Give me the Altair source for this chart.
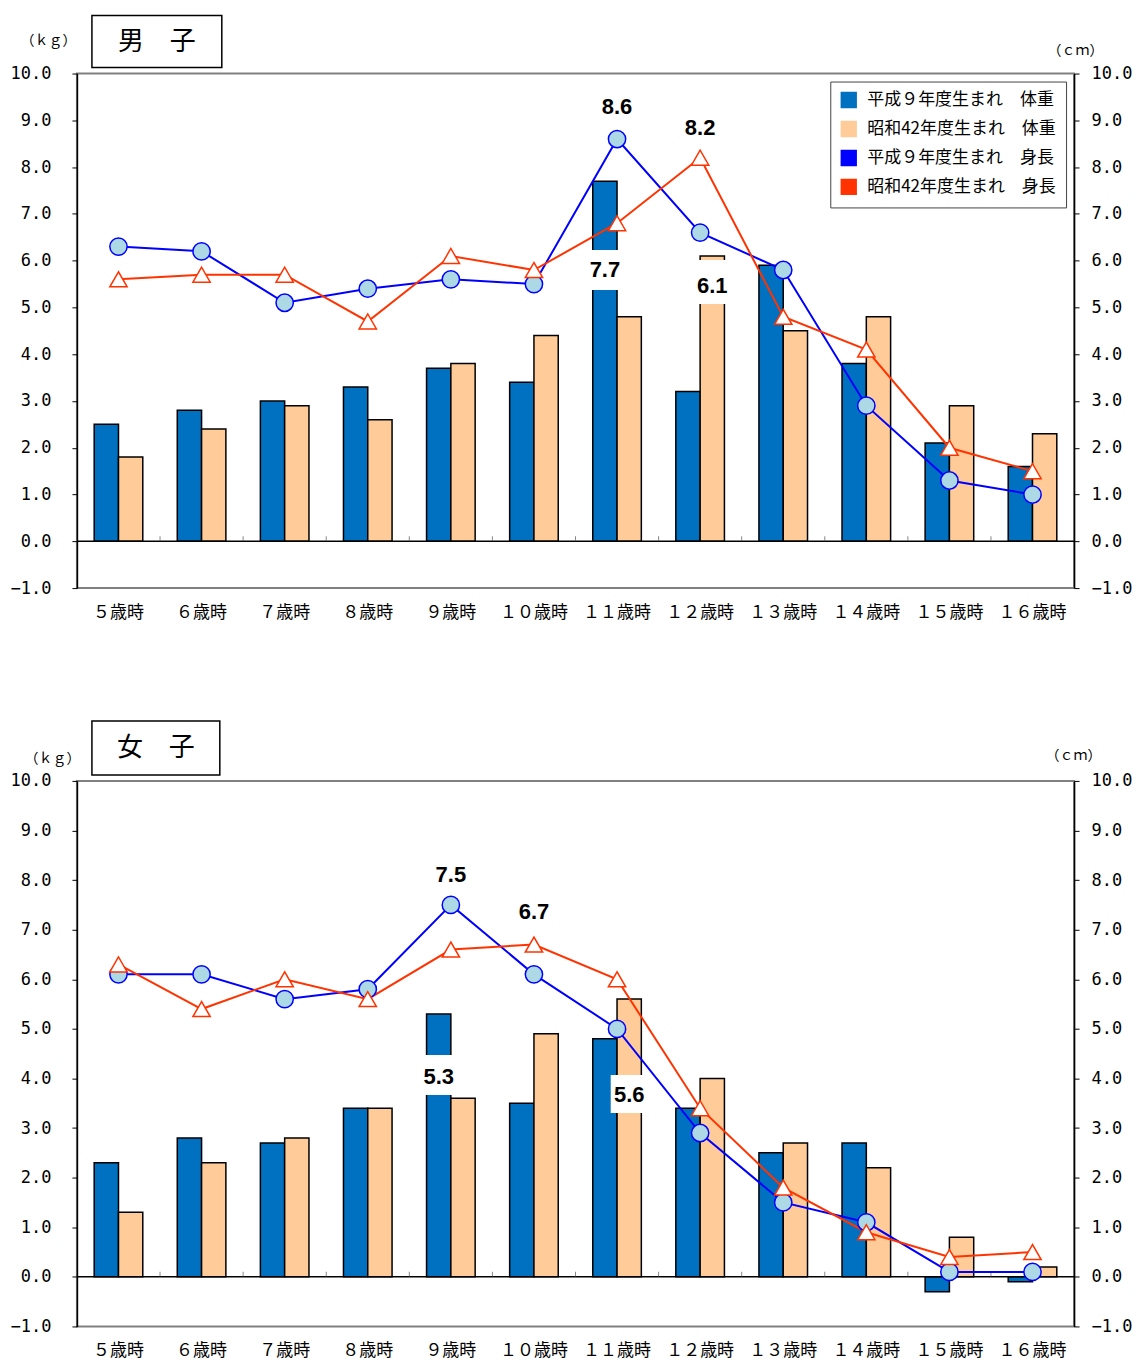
import altair as alt
import pandas as pd

JP = "Noto Sans CJK JP"
NUM = "Liberation Sans Narrow, Liberation Sans, Arial"
MONO = "DejaVu Sans Mono"

ages = ["５歳時", "６歳時", "７歳時", "８歳時", "９歳時", "１０歳時",
        "１１歳時", "１２歳時", "１３歳時", "１４歳時", "１５歳時", "１６歳時"]
series = ["平成９年度生まれ　体重", "昭和42年度生まれ　体重",
          "平成９年度生まれ　身長", "昭和42年度生まれ　身長"]
y_ticks = [-1, 0, 1, 2, 3, 4, 5, 6, 7, 8, 9, 10]

boys_h9_weight = [2.5, 2.8, 3.0, 3.3, 3.7, 3.4, 7.7, 3.2, 5.9, 3.8, 2.1, 1.6]
boys_s42_weight = [1.8, 2.4, 2.9, 2.6, 3.8, 4.4, 4.8, 6.1, 4.5, 4.8, 2.9, 2.3]
boys_h9_height = [6.3, 6.2, 5.1, 5.4, 5.6, 5.5, 8.6, 6.6, 5.8, 2.9, 1.3, 1.0]
boys_s42_height = [5.6, 5.7, 5.7, 4.7, 6.1, 5.8, 6.8, 8.2, 4.8, 4.1, 2.0, 1.5]

girls_h9_weight = [2.3, 2.8, 2.7, 3.4, 5.3, 3.5, 4.8, 3.4, 2.5, 2.7, -0.3, -0.1]
girls_s42_weight = [1.3, 2.3, 2.8, 3.4, 3.6, 4.9, 5.6, 4.0, 2.7, 2.2, 0.8, 0.2]
girls_h9_height = [6.1, 6.1, 5.6, 5.8, 7.5, 6.1, 5.0, 2.9, 1.5, 1.1, 0.1, 0.1]
girls_s42_height = [6.3, 5.4, 6.0, 5.6, 6.6, 6.7, 6.0, 3.4, 1.8, 0.9, 0.4, 0.5]

# labelled points: (series index, age index)
boys_labels = [(2, 6), (3, 7), (0, 6), (1, 7)]
girls_labels = [(2, 4), (3, 5), (0, 4), (1, 6)]

colors = ["#0070C0", "#FFCC99", "#0000FF", "#FF3300"]
marker_fill = ["#ADD8E6", "#FFFFFF"]
marker_shape = ["circle", "triangle-up"]


def make_legend():
    return alt.Legend(
        title=None, orient="top-right", offset=8, padding=10,
        strokeColor="#444444", fillColor="white",
        labelFont=JP, labelFontSize=17, labelColor="black", labelLimit=400,
        symbolType="square", symbolSize=220, rowPadding=8, labelOffset=10,
        values=series,
    )


def make_panel(title, data, height, labels, style):
    rows = []
    for si, vals in enumerate(data):
        for a, v in zip(ages, vals):
            rows.append({"age": a, "series": series[si], "value": v})
    df = pd.DataFrame(rows)
    df_bar = df[df["series"].isin(series[:2])]
    df_line = df[df["series"].isin(series[2:])]

    xscale = alt.Scale(domain=ages, paddingInner=0, paddingOuter=0)
    x_plain = alt.X("age:N", scale=xscale, axis=None)
    xoff = alt.XOffset("series:N", scale=alt.Scale(
        domain=series[:2], paddingInner=0, paddingOuter=0.71))
    leg = make_legend()
    color = alt.Color("series:N", scale=alt.Scale(domain=series, range=colors),
                      legend=leg)

    def ys():
        return alt.Scale(domain=[-1, 10], nice=False, zero=False)

    y_left = alt.Y("value:Q", scale=ys(), axis=alt.Axis(
        orient="left", values=y_ticks, format=".1f", labelFontSize=17,
        labelFont=MONO, labelColor="black", labelPadding=21, tickSize=5,
        tickColor="black", domainColor="black", domainWidth=1.5, grid=False,
        title="（ｋｇ）", titleAngle=0, titleX=style["kgx"], titleY=style["kgy"],
        titleAlign="center", titleBaseline="middle", titleFontSize=14,
        titleFontWeight="normal", titleFont=JP, titleColor="black"))
    y_right = alt.Y("value:Q", scale=ys(), axis=alt.Axis(
        orient="right", values=y_ticks, format=".1f", labelFontSize=17,
        labelFont=MONO, labelColor="black", labelPadding=12, tickSize=5,
        tickColor="black", domainColor="black", domainWidth=1.5, grid=False,
        title="（ｃｍ）", titleAngle=0, titleX=style["cmx"], titleY=style["cmy"],
        titleAlign="center", titleBaseline="middle", titleFontSize=14,
        titleFontWeight="normal", titleFont=JP, titleColor="black"))

    def y_none():
        return alt.Y("value:Q", scale=ys(), axis=None)

    parts = []
    parts.append(alt.Chart(df_bar).mark_bar(stroke="black", strokeWidth=1.5).encode(
        x=x_plain, xOffset=xoff, y=y_left, color=color))
    parts.append(alt.Chart(pd.DataFrame({"value": [0]})).mark_rule(
        color="black", strokeWidth=1.5).encode(y=y_none()))
    parts.append(alt.Chart(pd.DataFrame({"age": ages[1:], "value": [0] * (len(ages) - 1)})).mark_tick(
        orient="vertical", size=5, thickness=1, color="#555555", yOffset=-2.5).encode(
        x=alt.X("age:N", scale=xscale, axis=None, bandPosition=0), y=y_none()))
    # category labels under the plot
    parts.append(alt.Chart(pd.DataFrame({"age": ages})).mark_text(
        font=JP, fontSize=17, color="black", baseline="middle").encode(
        x=x_plain, y=alt.value(height + style["xlab"]), text="age:N"))
    parts.append(alt.Chart(df_line).mark_line(strokeWidth=2).encode(
        x=x_plain, y=y_right, color=color))
    for j in range(2):
        parts.append(
            alt.Chart(df_line).transform_filter(
                alt.datum.series == series[2 + j]).mark_point(
                filled=True, shape=marker_shape[j], fill=marker_fill[j],
                stroke=colors[2 + j], size=300, strokeWidth=1.5, opacity=1).encode(
                x=x_plain, y=y_none()))

    for k, (si, ai) in enumerate(labels):
        d = pd.DataFrame([{"age": ages[ai], "series": series[si], "value": data[si][ai]}])
        dy = style["dy"][k]
        if si >= 2:
            parts.append(alt.Chart(d).mark_text(
                font=NUM, fontSize=22, fontWeight="bold", color="black", dy=dy).encode(
                x=x_plain, y=y_none(), text=alt.Text("value:Q", format=".1f")))
        else:
            bw, bh, bdy = style["box"][k]
            parts.append(alt.Chart(d).mark_point(
                shape="M-1,-%.3fH1V%.3fH-1Z" % (bh / bw, bh / bw), filled=True,
                fill="white", opacity=1, strokeWidth=0, size=bw * bw, yOffset=bdy).encode(
                x=x_plain, xOffset=xoff, y=y_none()))
            parts.append(alt.Chart(d).mark_text(
                font=NUM, fontSize=22, fontWeight="bold", color="black", dy=dy).encode(
                x=x_plain, xOffset=xoff, y=y_none(), text=alt.Text("value:Q", format=".1f")))

    one = pd.DataFrame({"t": [title]})
    parts.append(alt.Chart(one).mark_rect(fill="white", stroke="black", strokeWidth=1.5).encode(
        x=alt.value(style["box_x"][0]), x2=alt.value(style["box_x"][1]),
        y=alt.value(style["box_y"][0]), y2=alt.value(style["box_y"][1])))
    parts.append(alt.Chart(one).mark_text(font=JP, fontSize=26, color="black").encode(
        x=alt.value((style["box_x"][0] + style["box_x"][1]) / 2),
        y=alt.value((style["box_y"][0] + style["box_y"][1]) / 2),
        text="t:N"))

    return alt.layer(*parts).resolve_scale(y="independent").properties(
        width=998, height=height)


boys = make_panel(
    "男　子",
    [boys_h9_weight, boys_s42_weight, boys_h9_height, boys_s42_height],
    515, boys_labels,
    {"dy": [-32, -30, 89, 30], "box": [None, None, (42, 40, 89), (42, 44, 26)],
     "kgx": -29, "kgy": -33, "cmx": 1, "cmy": -23, "xlab": 25,
     "box_x": (15, 145), "box_y": (-58, -6)})

girls = make_panel(
    "女　子",
    [girls_h9_weight, girls_s42_weight, girls_h9_height, girls_s42_height],
    546, girls_labels,
    {"dy": [-30, -33, 63, 96], "box": [None, None, (40, 40, 61), (37, 38, 95)],
     "kgx": -25, "kgy": -22, "cmx": -1, "cmy": -25, "xlab": 25,
     "box_x": (15, 143), "box_y": (-60, -6)})

chart = alt.vconcat(boys, girls, spacing=97).properties(
    padding={"left": 1, "top": 5, "right": 0, "bottom": 0}
).configure(font=JP).configure_view(stroke="#808080", strokeWidth=2)

chart.save("out.html", embed_options={"renderer": "svg", "actions": False})
